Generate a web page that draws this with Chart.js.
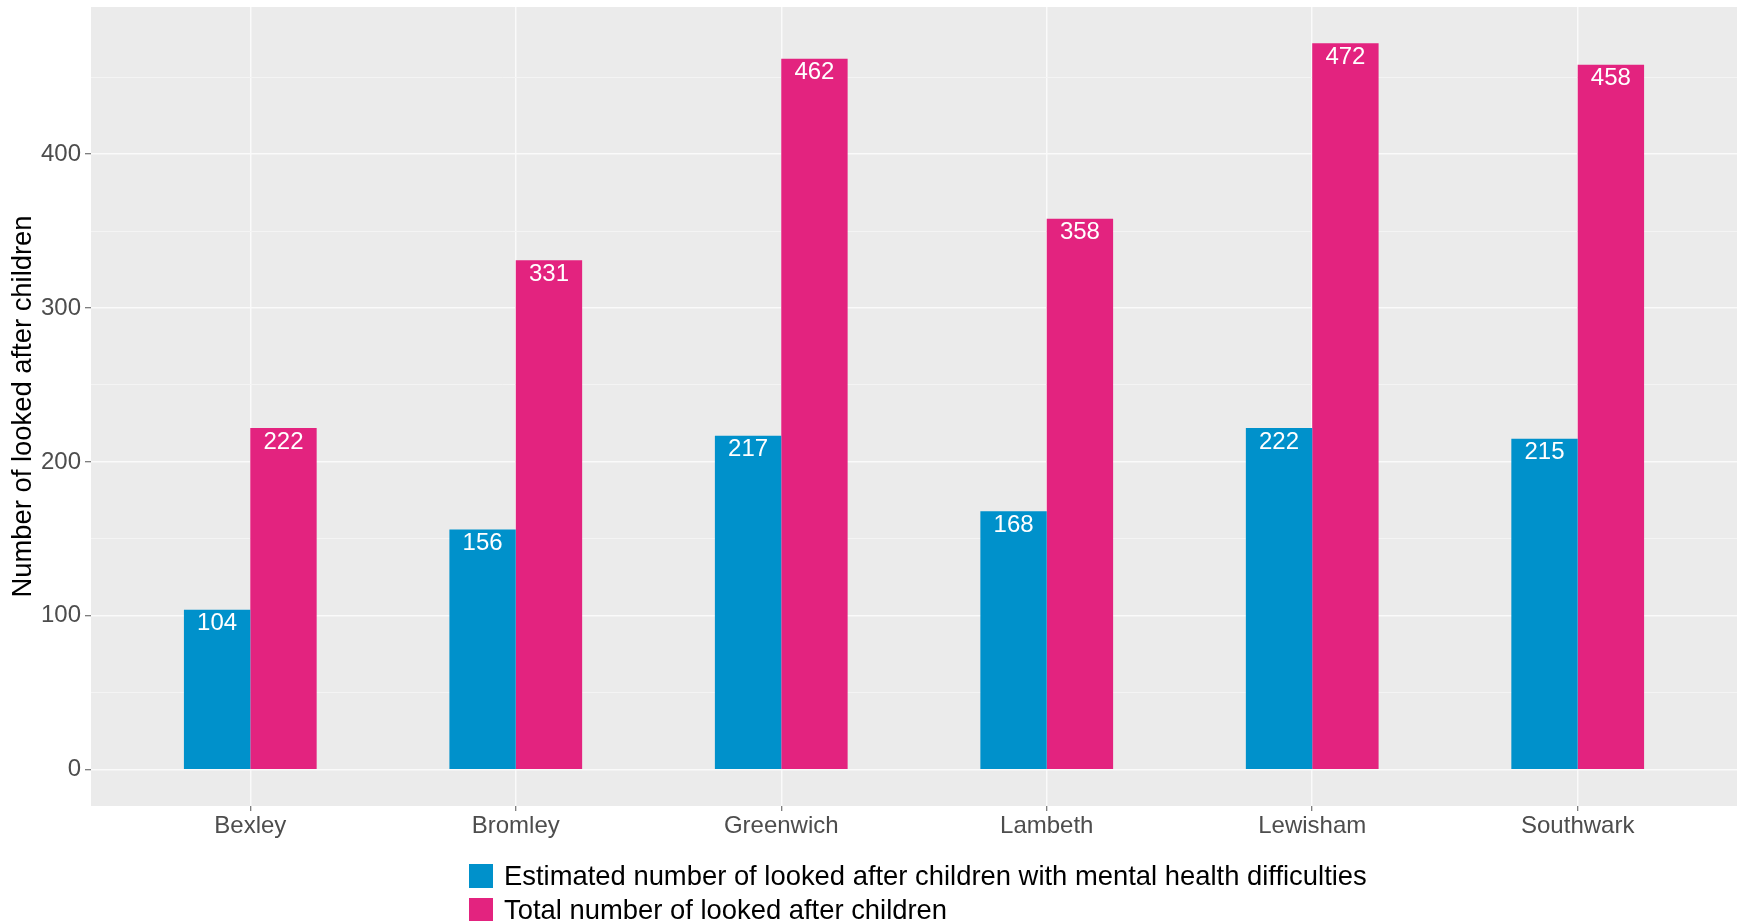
<!DOCTYPE html>
<html>
<head>
<meta charset="utf-8">
<script src="https://cdn.jsdelivr.net/npm/chart.js@4.4.0/dist/chart.umd.min.js"></script>
<style>
  body { margin: 0; background: #ffffff; }
  #contenedor { position: relative; width: 1739px; height: 921px; }
  #leyenda { position: absolute; left: 469px; top: 859px; font-family: 'Liberation Sans', Arial, sans-serif; font-size: 27.4px; color: #000; }
  .item { display: flex; align-items: center; height: 34px; }
  .caja { width: 24px; height: 24px; margin-right: 11px; }
</style>
</head>
<body>
<div id="contenedor">
  <canvas id="graficoNinos" width="1739" height="921"></canvas>
  <div id="leyenda"></div>
</div>
<script>
// Datos
const distritos = ["Bexley", "Bromley", "Greenwich", "Lambeth", "Lewisham", "Southwark"];
const saludMental = [104, 156, 217, 168, 222, 215];
const totalNinos = [222, 331, 462, 358, 472, 458];
const ticksY = [0, 50, 100, 150, 200, 250, 300, 350, 400, 450];
const nombresSeries = [
    "Estimated number of looked after children with mental health difficulties",
    "Total number of looked after children"
];
const coloresSeries = ['#0091CB', '#E3237F'];

const fuente = "'Liberation Sans', Arial, sans-serif";

// Fondo gris del panel (estilo ggplot)
const fondoPanel = {
    id: 'fondoPanel',
    beforeDraw(chart) {
        const { ctx, chartArea } = chart;
        ctx.save();
        ctx.fillStyle = '#EBEBEB';
        ctx.fillRect(chartArea.left, chartArea.top, chartArea.right - chartArea.left, chartArea.bottom - chartArea.top);
        ctx.restore();
    }
};

// Etiquetas blancas dentro de cada barra
const etiquetasBarras = {
    id: 'etiquetasBarras',
    afterDatasetsDraw(chart) {
        const ctx = chart.ctx;
        ctx.save();
        ctx.font = '24px ' + fuente;
        ctx.fillStyle = '#ffffff';
        ctx.textAlign = 'center';
        ctx.textBaseline = 'alphabetic';
        chart.data.datasets.forEach((ds, i) => {
            chart.getDatasetMeta(i).data.forEach((barra, j) => {
                ctx.fillText(String(ds.data[j].y), barra.x, barra.y + 20.5);
            });
        });
        ctx.restore();
    }
};

function aPuntos(valores) {
    return valores.map((v, i) => ({ x: i + 1, y: v }));
}

// quita el relleno que Chart.js agrega por las etiquetas
function sinRelleno(escala) {
    escala.paddingTop = 0;
    escala.paddingBottom = 0;
    escala.paddingLeft = 0;
    escala.paddingRight = 0;
}

function configuracionGrafico() {
    return {
        type: 'bar',
        data: {
            datasets: [{
                label: nombresSeries[0],
                data: aPuntos(saludMental),
                backgroundColor: coloresSeries[0],
                categoryPercentage: 0.5,
                barPercentage: 1
            }, {
                label: nombresSeries[1],
                data: aPuntos(totalNinos),
                backgroundColor: coloresSeries[1],
                categoryPercentage: 0.5,
                barPercentage: 1
            }]
        },
        options: {
            responsive: false,
            animation: false,
            layout: { padding: { left: 0, right: 2, top: 7, bottom: 75 } },
            plugins: {
                legend: { display: false },
                tooltip: { enabled: false }
            },
            scales: {
                x: {
                    type: 'linear',
                    min: 0.4,
                    max: 6.6,
                    offset: false,
                    afterBuildTicks: (escala) => {
                        escala.ticks = distritos.map((d, i) => ({ value: i + 1 }));
                    },
                    afterFit: (escala) => { escala.height = 40; sinRelleno(escala); },
                    ticks: {
                        callback: (valor) => distritos[valor - 1],
                        color: '#4D4D4D',
                        font: { family: fuente, size: 24 },
                        padding: 1,
                        maxRotation: 0,
                        autoSkip: false
                    },
                    grid: {
                        offset: false,
                        color: '#FAFAFA',
                        lineWidth: 1.5,
                        tickColor: '#555555',
                        tickLength: 5,
                        tickWidth: 1
                    },
                    border: { display: false }
                },
                y: {
                    min: -23.6,
                    max: 495.6,
                    afterBuildTicks: (escala) => {
                        escala.ticks = ticksY.map(v => ({ value: v }));
                    },
                    afterFit: (escala) => { escala.width = 91; sinRelleno(escala); },
                    ticks: {
                        callback: (valor) => (valor % 100 === 0 ? String(valor) : ''),
                        color: '#4D4D4D',
                        font: { family: fuente, size: 24 },
                        padding: 4
                    },
                    grid: {
                        color: (c) => (c.tick && c.tick.value % 100 === 0 ? '#FAFAFA' : '#F4F4F4'),
                        lineWidth: (c) => (c.tick && c.tick.value % 100 === 0 ? 1.5 : 1),
                        tickColor: (c) => (c.tick && c.tick.value % 100 === 0 ? '#555555' : 'rgba(0,0,0,0)'),
                        tickLength: 6,
                        tickWidth: 1
                    },
                    border: { display: false },
                    title: {
                        display: true,
                        text: 'Number of looked after children',
                        color: '#000000',
                        font: { family: fuente, size: 27.4 },
                        padding: { top: 7, bottom: 0 }
                    }
                }
            }
        },
        plugins: [fondoPanel, etiquetasBarras]
    };
}

// Leyenda en HTML, dos filas alineadas a la izquierda
function construirLeyenda(grafico) {
    const caja = document.getElementById('leyenda');
    grafico.data.datasets.forEach(ds => {
        const fila = document.createElement('div');
        fila.className = 'item';
        const cuadro = document.createElement('span');
        cuadro.className = 'caja';
        cuadro.style.background = ds.backgroundColor;
        const texto = document.createElement('span');
        texto.textContent = ds.label;
        fila.appendChild(cuadro);
        fila.appendChild(texto);
        caja.appendChild(fila);
    });
}

document.addEventListener('DOMContentLoaded', () => {
    const lienzo = document.getElementById('graficoNinos');
    if (lienzo) {
        const grafico = new Chart(lienzo, configuracionGrafico());
        construirLeyenda(grafico);
    } else {
        console.error('No se encontró el canvas graficoNinos');
    }
});
</script>
</body>
</html>
